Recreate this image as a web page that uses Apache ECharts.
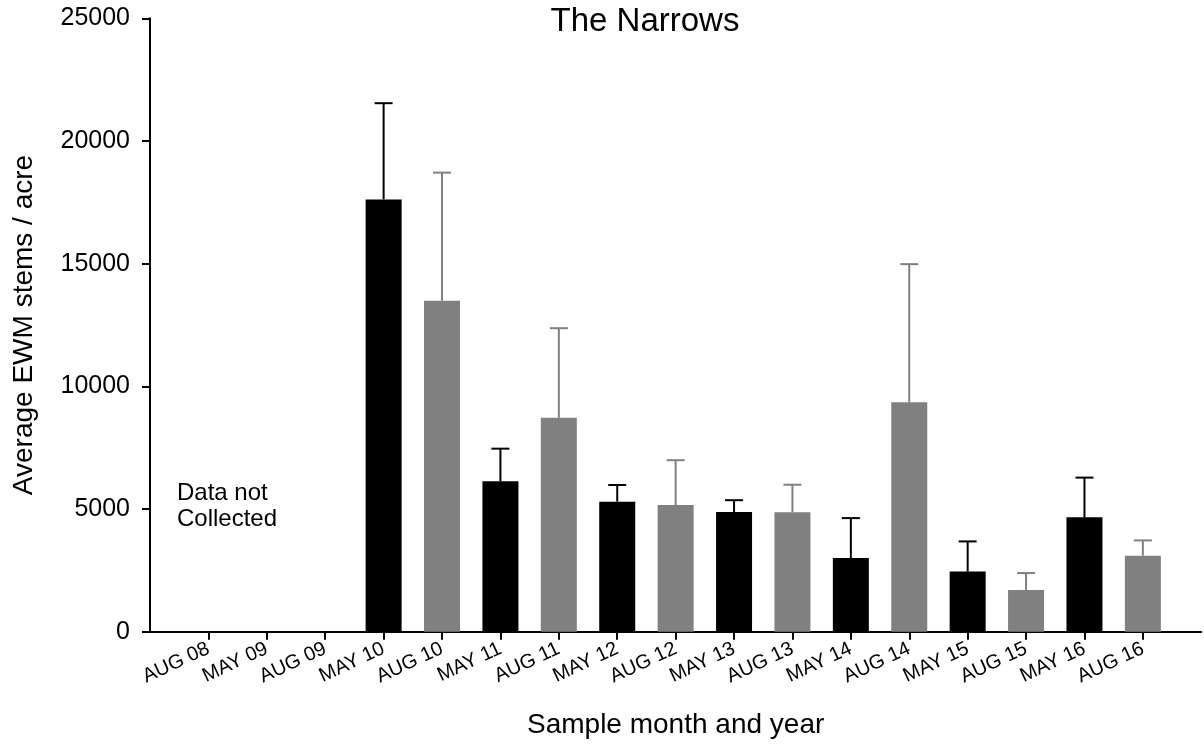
<!DOCTYPE html>
<html>
<head>
<meta charset="utf-8">
<script src="https://cdn.jsdelivr.net/npm/echarts@6/dist/echarts.min.js"></script>
<style>
html,body{margin:0;padding:0;background:#fff;}
#chart{width:1204px;height:748px;}
</style>
</head>
<body>
<div id="chart"></div>
<script>
const categories = ['AUG 08','MAY 09','AUG 09','MAY 10','AUG 10','MAY 11','AUG 11','MAY 12','AUG 12','MAY 13','AUG 13','MAY 14','AUG 14','MAY 15','AUG 15','MAY 16','AUG 16'];
const meanStems = [null,null,null,17620,13490,6130,8720,5300,5160,4880,4870,3000,9350,2450,1700,4660,3100];
const errorTop  = [null,null,null,21540,18710,7460,12370,5980,6990,5360,5990,4630,14980,3680,2390,6280,3720];
const yTicks = [0,5000,10000,15000,20000,25000];

const FONT = '"Liberation Sans", Arial, sans-serif';
const BLACK = '#000000', GRAY = '#808080';
const colorOf = name => (name && name.indexOf('MAY') === 0) ? BLACK : GRAY;

// padded axis so categories sit at positions 1..17 of an 18-step axis
const axisCats = [''].concat(categories, ['']);
const barData = [null].concat(meanStems, [null]);
const errData = [];
categories.forEach((c, i) => {
  if (meanStems[i] != null) errData.push([i + 1, meanStems[i], errorTop[i]]);
});

const chart = echarts.init(document.getElementById('chart'));
chart.setOption({
  animation: false,
  backgroundColor: '#fff',
  grid: {left: 150, right: 0, top: 18.3, bottom: 116.3, containLabel: false},
  xAxis: {
    type: 'category',
    data: axisCats,
    boundaryGap: false,
    name: 'Sample month and year',
    nameLocation: 'middle',
    nameGap: 80,
    nameTextStyle: {fontFamily: FONT, fontSize: 28, color: '#000'},
    axisLine: {lineStyle: {color: '#000', width: 2}},
    axisTick: {show: true, length: 8, lineStyle: {color: '#000', width: 2},
      interval: (idx) => idx > 0 && idx < axisCats.length - 1},
    axisLabel: {interval: 0, rotate: 25, margin: 16, fontFamily: FONT, fontSize: 20, color: '#000'},
    splitLine: {show: false}
  },
  yAxis: {
    type: 'value',
    min: yTicks[0], max: yTicks[yTicks.length - 1], interval: 5000,
    name: 'Average EWM stems / acre',
    nameLocation: 'middle',
    nameGap: 112,
    nameTextStyle: {fontFamily: FONT, fontSize: 28, color: '#000'},
    axisLine: {show: true, lineStyle: {color: '#000', width: 2}},
    axisTick: {show: true, length: 8, lineStyle: {color: '#000', width: 2}},
    axisLabel: {margin: 20, fontFamily: FONT, fontSize: 25, color: '#000', formatter: v => String(v)},
    splitLine: {show: false}
  },
  graphic: [
    {type: 'text', x: 645, y: 5, style: {text: 'The Narrows', font: '33px ' + FONT, fill: '#000', textAlign: 'center', textVerticalAlign: 'top'}},
    {type: 'text', x: 177, y: 480, style: {text: 'Data not\nCollected', font: '24px ' + FONT, lineHeight: 26, fill: '#000', textAlign: 'left', textVerticalAlign: 'top'}}
  ],
  series: [
    {
      type: 'bar',
      data: barData,
      barWidth: 36,
      itemStyle: {color: p => colorOf(p.name)}
    },
    {
      type: 'custom',
      data: errData,
      z: 3,
      renderItem: (params, api) => {
        const idx = api.value(0);
        const color = colorOf(axisCats[idx]);
        const p0 = api.coord([idx, api.value(1)]);
        const p1 = api.coord([idx, api.value(2)]);
        const st = {stroke: color, lineWidth: 2};
        return {type: 'group', children: [
          {type: 'line', shape: {x1: p0[0], y1: p0[1], x2: p1[0], y2: p1[1]}, style: st},
          {type: 'line', shape: {x1: p1[0] - 9, y1: p1[1], x2: p1[0] + 9, y2: p1[1]}, style: st}
        ]};
      }
    }
  ]
});
</script>
</body>
</html>
